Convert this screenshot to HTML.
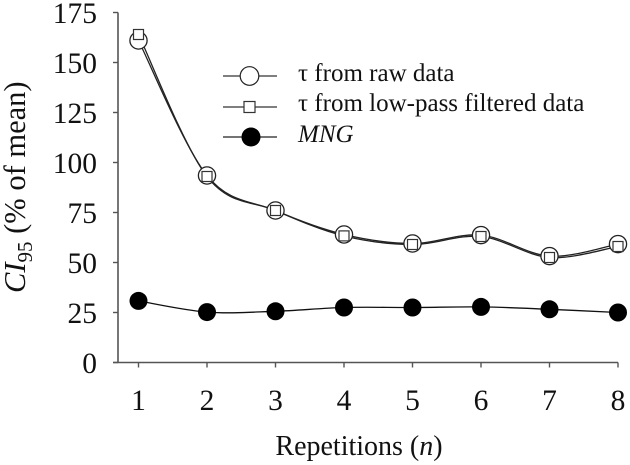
<!DOCTYPE html>
<html>
<head>
<meta charset="utf-8">
<style>
html,body{margin:0;padding:0;background:#fff;width:630px;height:465px;overflow:hidden}
svg{display:block;filter:blur(0.35px)}
text{font-family:"Liberation Serif",serif;fill:#111}
</style>
</head>
<body>
<svg id="chart" width="630" height="465" viewBox="0 0 630 465" xmlns="http://www.w3.org/2000/svg">
  <g id="axes"></g>
  <g id="series"></g>
  <text transform="translate(25,293) rotate(-90)" font-size="30.5"><tspan font-style="italic">CI</tspan><tspan font-size="21" dy="7">95</tspan><tspan dy="-7"> (% of mean)</tspan></text>
  <text x="359" y="455" text-anchor="middle" font-size="28">Repetitions (<tspan font-style="italic">n</tspan>)</text>
  <g>
    <g>
      <line x1="223" x2="277" y1="76" y2="76" stroke="#333" stroke-width="1.2"/>
      <circle cx="249.5" cy="76" r="9.3" fill="#fff" stroke="#222" stroke-width="1.2"/>
      <text x="298" y="81" font-size="25">τ from raw data</text>
    </g>
    <g>
      <line x1="223" x2="277" y1="107" y2="107" stroke="#333" stroke-width="1.2"/>
      <rect x="244" y="101.5" width="11" height="11" fill="#fff" stroke="#333" stroke-width="1.2"/>
      <text x="298" y="111" font-size="25">τ from low-pass filtered data</text>
    </g>
    <g>
      <line x1="223" x2="277" y1="137" y2="137" stroke="#222" stroke-width="1.2"/>
      <circle cx="251" cy="137" r="9.5" fill="#000"/>
      <text x="298" y="142" font-size="25" font-style="italic">MNG</text>
    </g>
  </g>
</svg>
<script>
const categories = [1, 2, 3, 4, 5, 6, 7, 8];
const yTickLabels = [0, 25, 50, 75, 100, 125, 150, 175];
const rawData = [161, 93.5, 76, 64, 59.5, 63.7, 53.2, 59.2];
const filteredData = [164, 93, 76, 63.3, 59, 63, 52.5, 58];
const mngData = [30.8, 25.2, 25.6, 27.5, 27.5, 27.8, 26.6, 25];

const NS = 'http://www.w3.org/2000/svg';
function xScale(v) { return 138.5 + (v - 1) * 68.5; }
function yScale(v) { return 362.5 - v * 2; }
function make(tag, attrs, parent) {
  const el = document.createElementNS(NS, tag);
  for (const k in attrs) el.setAttribute(k, attrs[k]);
  parent.appendChild(el);
  return el;
}
function splinePath(values) {
  const p = values.map((v, i) => [xScale(categories[i]), yScale(v)]);
  let d = 'M' + p[0][0] + ' ' + p[0][1];
  for (let i = 0; i < p.length - 1; i++) {
    const a = p[Math.max(i - 1, 0)], b = p[i], c = p[i + 1], e = p[Math.min(i + 2, p.length - 1)];
    const c1x = b[0] + (c[0] - a[0]) / 6, c1y = b[1] + (c[1] - a[1]) / 6;
    const c2x = c[0] - (e[0] - b[0]) / 6, c2y = c[1] - (e[1] - b[1]) / 6;
    d += 'C' + c1x + ' ' + c1y + ' ' + c2x + ' ' + c2y + ' ' + c[0] + ' ' + c[1];
  }
  return d;
}

const axes = document.getElementById('axes');
const yAxis = make('line', { x1: 118, x2: 118, y1: yScale(175), y2: yScale(0), stroke: '#555', 'stroke-width': 1.6 }, axes);


const xAxis = make('line', { x1: 113, x2: xScale(8), y1: yScale(0), y2: yScale(0), stroke: '#555', 'stroke-width': 1.6 }, axes);



yTickLabels.forEach(function (t) {
  const mark = make('line', { x1: 113, x2: 118, y1: yScale(t), y2: yScale(t), stroke: '#555', 'stroke-width': 1.4 }, axes);
  
  
  const label = make('text', { x: 97, y: yScale(t) + 10.5, 'text-anchor': 'end', 'font-size': 29.5 }, axes);
  
  
  label.textContent = t;
});
categories.forEach(function (c) {
  const mark = make('line', { x1: xScale(c), x2: xScale(c), y1: yScale(0), y2: yScale(0) + 5, stroke: '#555', 'stroke-width': 1.4 }, axes);
  
  
  const label = make('text', { x: xScale(c), y: 410, 'text-anchor': 'middle', 'font-size': 29.5 }, axes);
  
  
  label.textContent = c;
});

const series = document.getElementById('series');
const lineRaw = make('path', { d: splinePath(rawData), fill: 'none', stroke: '#222', 'stroke-width': 1.3 }, series);


const lineFiltered = make('path', { d: splinePath(filteredData), fill: 'none', stroke: '#222', 'stroke-width': 1.3 }, series);


const lineMng = make('path', { d: splinePath(mngData), fill: 'none', stroke: '#111', 'stroke-width': 1.3 }, series);



rawData.forEach(function (v, i) {
  const pt = make('circle', { cx: xScale(categories[i]), cy: yScale(v), r: 8.6, fill: '#fff', stroke: '#222', 'stroke-width': 1.3 }, series);
  
  
});
filteredData.forEach(function (v, i) {
  const pt = make('rect', { x: xScale(categories[i]) - 5, y: yScale(v) - 5, width: 10, height: 10, fill: '#fff', stroke: '#333', 'stroke-width': 1.2 }, series);
  
  
});
mngData.forEach(function (v, i) {
  const pt = make('circle', { cx: xScale(categories[i]), cy: yScale(v), r: 9, fill: '#000' }, series);
  
  
});
</script>
</body>
</html>
